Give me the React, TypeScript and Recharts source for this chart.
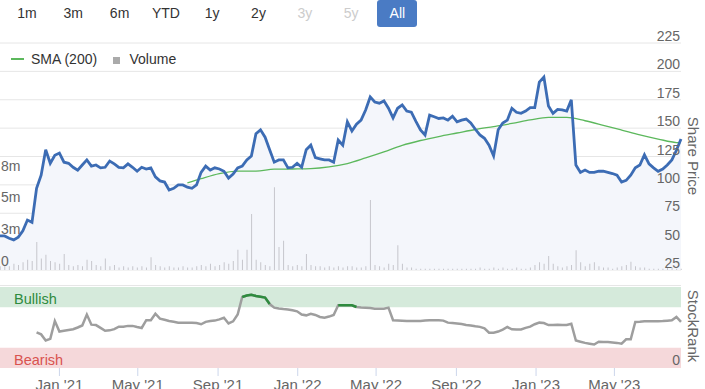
import React from 'react';
import { ComposedChart, Area, Line, Bar, XAxis, YAxis, CartesianGrid, ReferenceArea } from 'recharts';

// weekly samples, first one on Fri 2 Oct 2020
const START = Date.UTC(2020, 9, 2);
const WEEK = 7 * 24 * 3600 * 1000;

const price = [
  55, 55, 53, 51.5, 54, 59.5, 69, 67, 97, 108.5,
  131, 119, 126, 128, 120, 119, 115.5, 113, 117.5, 122,
  116.5, 117.5, 115, 115.5, 121, 118.5, 115.5, 115, 118.5, 115.5,
  112, 115.5, 114, 115, 107, 103.5, 102.5, 95.5, 97, 100,
  100, 98, 97, 100, 111, 116.5, 113, 115, 114, 112,
  106, 109.5, 115, 116.5, 122, 125.5, 145, 148.5, 142, 131,
  120, 122, 122, 115, 115.5, 119, 115.5, 131, 135, 124,
  123, 122, 122, 120, 139.5, 135, 155.5, 147.5, 153.5, 157,
  166, 177.5, 173, 172, 174, 167.5, 159, 167.5, 170.5, 165,
  164, 156, 148.5, 144, 161.5, 160, 158.5, 159, 157, 160.5,
  155.5, 157, 158, 154.5, 149, 144, 141, 135, 125.5, 148.5,
  154.5, 157, 167.5, 164, 163, 165, 168, 168, 190.5, 195,
  169.5, 163, 166.5, 166, 165, 175, 117.5, 111, 113, 111,
  111, 112, 112, 111, 110, 108.5, 102.5, 104, 108.5, 115,
  117.5, 126.5, 118.5, 115, 112, 114, 117.5, 122, 130.5, 140.5,
];

// millions of shares
const volume = [
  0.3, 0.4, 0.3, 0.5, 0.4, 0.6, 0.8, 0.7, 2.2, 0.9,
  1.2, 0.7, 0.6, 0.5, 1.25, 0.4, 0.3, 0.4, 0.3, 0.8,
  0.7, 0.4, 0.3, 0.9, 0.3, 0.4, 0.2, 0.3, 0.2, 0.3,
  0.2, 0.3, 0.2, 1.0, 0.4, 0.3, 0.2, 0.3, 0.2, 0.2,
  0.3, 0.2, 0.2, 0.3, 0.4, 0.3, 0.5, 0.3, 0.4, 0.6,
  0.5, 0.7, 1.6, 0.8, 1.6, 4.4, 0.8, 0.6, 0.4, 0.3,
  6.5, 1.8, 2.3, 0.4, 0.3, 0.4, 0.3, 1.25, 0.4, 0.3,
  0.3, 0.2, 0.3, 0.2, 0.3, 0.2, 0.3, 0.3, 0.2, 0.2,
  0.3, 5.5, 0.4, 0.3, 0.2, 0.5, 0.4, 1.95, 0.5, 0.2,
  0.2, 0.1, 0.1, 0.1, 0.1, 0.1, 0.1, 0.1, 0.1, 0.1,
  0.1, 0.1, 0.1, 0.1, 0.1, 0.2, 0.1, 0.1, 0.2, 0.1,
  0.2, 0.1, 0.1, 0.2, 0.1, 0.1, 0.2, 0.4, 0.6, 0.5,
  1.1, 0.5, 0.3, 0.2, 0.3, 0.4, 1.56, 0.6, 0.3, 0.5,
  0.6, 0.3, 0.2, 0.2, 0.1, 0.2, 0.3, 0.4, 0.65, 0.3,
  0.2, 0.2, 0.1, 0.1, 0.1, 0.1, 0.2, 0.2, 0.1, 0.1,
];

const smaWeeks = [41, 44, 48, 52, 56, 60, 64, 68, 72, 76, 80, 84, 88, 92, 96, 100, 104, 108, 112, 116, 120, 124, 128, 132, 136, 140, 144, 148, 149];
const smaValues = [101.7, 105.5, 110, 112.2, 112.2, 113.8, 114, 114.3, 115.8, 118.8, 123.7, 129, 134.8, 139.1, 142.6, 145.7, 148.8, 151.4, 154.1, 157.2, 159.5, 159.4, 156.5, 152.5, 148.3, 144, 140.4, 137.3, 137.2];

const rank = [
  null, null, null, null, null, null, null, null, 44, 41.5,
  34, 36, 58, 45, 46, 47, 47.8, 50, 52.5, 66,
  53.5, 53, 49.5, 46, 46.5, 48, 51, 51, 52, 52,
  50.6, 49.4, 59, 59, 67, 61, 59.5, 58, 57, 56,
  56, 56, 56, 55.5, 54, 57, 58, 58.5, 60, 62,
  55, 57.6, 66, 87.7, 89.5, 90.5, 89, 88, 87, 79,
  74.5, 73.5, 72.8, 72.3, 71.2, 70, 66, 65, 67, 65.5,
  63, 62, 63.5, 65.5, 77.4, 77.4, 77.4, 77.4, 75.3, 74.8,
  74.5, 74, 73.2, 73.2, 73.2, 74.5, 58.9, 58.5, 58.2, 58,
  58, 58, 58, 58.5, 58.8, 59, 58.9, 58.5, 56, 55.5,
  55, 54.2, 53.2, 52.5, 51.5, 50.8, 49, 43.5, 43.5, 45,
  47.5, 50.6, 47.8, 47.5, 47.5, 49.5, 51, 54, 56, 55.5,
  53, 53.2, 53.5, 53, 53, 54.7, 34, 32.5, 31, 30,
  29, 32.5, 32, 32, 31.5, 31, 30, 35.4, 35.4, 56.8,
  57, 57.6, 57.6, 57.6, 57.8, 58, 58.4, 58.9, 63, 57,
];

const priceTicks = [25, 50, 75, 100, 125, 150, 175, 200, 225];
const volumeTicks = [0, 2.5, 5, 7.5];
const volumeLabels = ['0', '3m', '5m', '8m'];
const dateTicks = ['2021-01-01', '2021-05-01', '2021-09-01', '2022-01-01', '2022-05-01', '2022-09-01', '2023-01-01', '2023-05-01'];
const dateLabels = ["Jan '21", "May '21", "Sep '21", "Jan '22", "May '22", "Sep '22", "Jan '23", "May '23"];
const ranges = ['1m', '3m', '6m', 'YTD', '1y', '2y', '3y', '5y', 'All'];
const disabledRanges = ['3y', '5y'];

const data = price.map((p, i) => {
  const k = smaWeeks.indexOf(i);
  const r = rank[i];
  return {
    date: START + i * WEEK,
    price: p,
    volume: volume[i],
    sma: k >= 0 ? smaValues[k] : null,
    rank: r,
    bull: r != null && r >= 75 ? r : null,
  };
});
const tickTimes = dateTicks.map((d) => Date.parse(d));
const xDomain = [data[0].date, data[data.length - 1].date];

const GREY = '#666666';

const PriceTick = (props: any) => (
  <text x={680} y={props.y - 2} textAnchor="end" fontSize={14} fill={GREY}>
    {props.payload.value}
  </text>
);

const VolTick = (props: any) => (
  <text x={1} y={props.y - 4} textAnchor="start" fontSize={14} fill={GREY}>
    {volumeLabels[volumeTicks.indexOf(props.payload.value)]}
  </text>
);

const RankTick = (props: any) => (
  <text x={680} y={props.y - 3} textAnchor="end" fontSize={14} fill={GREY}>
    {props.payload.value}
  </text>
);

const DateTick = (props: any) => (
  <text x={props.x} y={110} textAnchor="middle" fontSize={15} fill={GREY}>
    {dateLabels[tickTimes.indexOf(props.payload.value)]}
  </text>
);

const BandLabel = (props: any) => {
  const vb = props.viewBox;
  return (
    <text x={vb.x + 14} y={vb.y + vb.height / 2 + 7} fontSize={14.5} fill={props.color}>
      {props.text}
    </text>
  );
};

export default function App() {
  return (
    <div
      style={{
        position: 'absolute',
        left: 0,
        top: 0,
        width: 705,
        height: 389,
        overflow: 'hidden',
        background: '#fff',
        fontFamily: '"Liberation Sans", Arial, sans-serif',
      }}
    >
      {/* range selector */}
      {ranges.map((r, i) => {
        const active = r === 'All';
        const off = disabledRanges.includes(r);
        return (
          <div
            key={r}
            style={{
              position: 'absolute',
              left: 27 + 46.3 * i - 20,
              top: 0,
              width: 40,
              height: 27,
              lineHeight: '27px',
              textAlign: 'center',
              fontSize: 14,
              borderRadius: 3,
              background: active ? '#4a7bc4' : 'transparent',
              color: active ? '#fff' : off ? '#cccccc' : '#333333',
            }}
          >
            {r}
          </div>
        );
      })}

      <div style={{ position: 'absolute', left: 0, top: 0 }}>
        <ComposedChart width={705} height={272} data={data} margin={{ top: 43, right: 23, bottom: 2, left: -1 }}>
          <CartesianGrid vertical={false} yAxisId="price" stroke="#e6e6e6" />
          <XAxis type="number" dataKey="date" domain={xDomain} hide />
          <YAxis
            yAxisId="vol"
            orientation="left"
            domain={[0, 17.85]}
            ticks={volumeTicks}
            interval={0}
            width={1}
            axisLine={false}
            tickLine={false}
            tick={VolTick}
          />
          <YAxis
            yAxisId="price"
            orientation="right"
            domain={[25, 225]}
            ticks={priceTicks}
            interval={0}
            width={1}
            axisLine={false}
            tickLine={false}
            tick={PriceTick}
          />
          <Area yAxisId="price" type="linear" dataKey="price" stroke="none" fill="#f4f6fb" fillOpacity={1} isAnimationActive={false} />
          <Bar yAxisId="vol" dataKey="volume" barSize={1} fill="#c6c6cc" isAnimationActive={false} />
          <Line yAxisId="price" type="monotone" dataKey="sma" stroke="#5cb85c" strokeWidth={1.3} dot={false} connectNulls isAnimationActive={false} />
          <Line yAxisId="price" type="linear" dataKey="price" stroke="#3c6cb4" strokeWidth={2.8} dot={false} isAnimationActive={false} />
        </ComposedChart>
      </div>

      {/* legend */}
      <div style={{ position: 'absolute', left: 11, top: 58, width: 13, height: 1.5, background: '#5cb85c' }} />
      <div style={{ position: 'absolute', left: 31, top: 51, fontSize: 14, lineHeight: '16px', color: '#333' }}>SMA (200)</div>
      <div style={{ position: 'absolute', left: 112.5, top: 57, width: 7, height: 7, background: '#aaaaaa' }} />
      <div style={{ position: 'absolute', left: 129.5, top: 51, fontSize: 14, lineHeight: '16px', color: '#333' }}>Volume</div>

      <div style={{ position: 'absolute', left: 0, top: 280 }}>
        <ComposedChart width={705} height={115} data={data} margin={{ top: 7, right: 23, bottom: 0, left: 0 }}>
          <XAxis
            type="number"
            dataKey="date"
            domain={xDomain}
            ticks={tickTimes}
            interval={0}
            height={27}
            axisLine={false}
            tickLine={{ stroke: '#ccd6eb' }}
            tickSize={8}
            tick={DateTick}
          />
          <YAxis
            yAxisId="rank"
            orientation="right"
            domain={[0, 100]}
            ticks={[0, 100]}
            interval={0}
            width={1}
            axisLine={false}
            tickLine={false}
            tick={(p: any) => (p.payload.value === 0 ? <RankTick {...p} /> : <g />)}
          />
          <ReferenceArea yAxisId="rank" y1={75} y2={100} fill="#d5eadb" fillOpacity={1} stroke="none" label={<BandLabel text="Bullish" color="#2e8b3e" />} />
          <ReferenceArea yAxisId="rank" y1={0} y2={25} fill="#f5d8da" fillOpacity={1} stroke="none" label={<BandLabel text="Bearish" color="#d9534f" />} />
          <Line yAxisId="rank" type="linear" dataKey="rank" stroke="#9e9e9e" strokeWidth={2.5} dot={false} isAnimationActive={false} />
          <Line yAxisId="rank" type="linear" dataKey="bull" stroke="#2e8b3e" strokeWidth={2.5} dot={false} isAnimationActive={false} />
        </ComposedChart>
      </div>

      <svg width={705} height={389} style={{ position: 'absolute', left: 0, top: 0, pointerEvents: 'none' }}>
        <line x1={0} x2={681} y1={285.5} y2={285.5} stroke="#e6e6e6" />
        <text x={693} y={156} transform="rotate(90 693 156)" textAnchor="middle" dominantBaseline="central" fontSize={15} fill={GREY}>
          Share Price
        </text>
        <text x={693} y={326} transform="rotate(90 693 326)" textAnchor="middle" dominantBaseline="central" fontSize={15} fill={GREY}>
          StockRank
        </text>
      </svg>
    </div>
  );
}
